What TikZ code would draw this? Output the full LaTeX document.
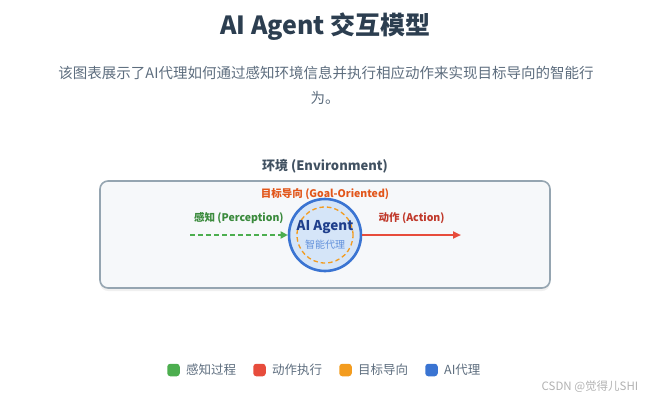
\documentclass[tikz,border=0pt]{standalone}
\usepackage{fontspec}
\setmainfont{Noto Sans CJK SC}
\usetikzlibrary{positioning,arrows.meta,shadows}
\definecolor{inkdark}{HTML}{2C3E50}
\definecolor{inkgray}{HTML}{5D6D7E}
\definecolor{envfill}{HTML}{F6F8FA}
\definecolor{envline}{HTML}{95A5B1}
\definecolor{percgreen}{HTML}{4CAE4F}
\definecolor{perctext}{HTML}{3A8A3C}
\definecolor{actred}{HTML}{E74C3C}
\definecolor{acttext}{HTML}{C0392B}
\definecolor{goalorange}{HTML}{F39C1F}
\definecolor{goaltext}{HTML}{E2561A}
\definecolor{agentblue}{HTML}{3A74D2}
\definecolor{agentfill}{HTML}{D5E5F8}
\definecolor{agenttext}{HTML}{1F3F8C}
\newcommand{\fsz}[1]{\fontsize{#1}{#1}\selectfont}

\begin{document}
\begin{tikzpicture}[
  x=1pt, y=-1pt,
  font=\fsz{10},
  envbox/.style={draw=envline, line width=1.6pt, rounded corners=8pt, fill=envfill,
                 minimum width=450pt, minimum height=107pt,
                 drop shadow={opacity=0.12, shadow xshift=0pt, shadow yshift=-3pt}},
  agent/.style={circle, draw=agentblue, line width=2.6pt, fill=agentfill,
                minimum size=72pt, inner sep=0pt},
  goalring/.style={circle, draw=goalorange, line width=1.3pt, dash pattern=on 4.5pt off 3pt,
                   minimum size=56pt, inner sep=0pt},
  lbl/.style={font=\fsz{10.5}\bfseries, inner sep=1pt},
  perc/.style={draw=percgreen, line width=2pt, dash pattern=on 5pt off 3pt,
               -{Triangle[length=7pt, width=7pt, fill=percgreen]}},
  act/.style={draw=actred, line width=2pt,
              -{Triangle[length=8pt, width=7pt, fill=actred]}},
  legkey/.style={rounded corners=3pt, minimum size=12.5pt, inner sep=0pt},
  legtext/.style={font=\fsz{12.5}, text=inkgray, anchor=west, inner sep=0pt}
]
\useasboundingbox (0,0) rectangle (651,400);

% heading
\node[font=\fsz{25}\bfseries, text=inkdark] (title) at (325.5,27) {AI Agent 交互模型};
\node[font=\fsz{14.5}, text=inkgray] (sub1) at (326,73) {该图表展示了AI代理如何通过感知环境信息并执行相应动作来实现目标导向的智能行};
\node[font=\fsz{14.5}, text=inkgray] (sub2) at (325,98) {为。};

% environment
\node[envbox] (env) at (325,234.5) {};
\node[font=\fsz{13}\bfseries, text=inkdark!90] (envname) at (325,166) {环境 (Environment)};

% agent
\node[agent] (agent) at (325,235) {};
\node[goalring] (goal) at (325,235) {};
\node[font=\fsz{13.5}\bfseries, text=agenttext] (agentname) at (325,227) {AI Agent};
\node[font=\fsz{10}, text=agentblue!80!white] (agentcn) at (325,245) {智能代理};
\node[lbl, text=goaltext] (goallbl) at (325,194.5) {目标导向 (Goal-Oriented)};

% perception / action
\coordinate (percstart) at (190,235);
\coordinate (actend) at (461,235);
\draw[perc] (percstart) -- node[lbl, text=perctext, above=9pt] (perclbl) {感知 (Perception)} (agent.west);
\draw[act] (agent.east) -- node[lbl, text=acttext, above=9pt] (actlbl) {动作 (Action)} (actend);

% legend
\node[legkey, fill=percgreen] (key1) at (173.5,370) {};
\node[legtext, right=6pt of key1] (leg1) {感知过程};
\node[legkey, fill=actred] (key2) at (259.5,370) {};
\node[legtext, right=6pt of key2] (leg2) {动作执行};
\node[legkey, fill=goalorange] (key3) at (345.5,370) {};
\node[legtext, right=6pt of key3] (leg3) {目标导向};
\node[legkey, fill=agentblue] (key4) at (431.5,370) {};
\node[legtext, right=6pt of key4] (leg4) {AI代理};

\node[font=\fsz{11.5}, text=black!30] (mark) at (590,387) {CSDN @觉得儿SHI};
\end{tikzpicture}
\end{document}
